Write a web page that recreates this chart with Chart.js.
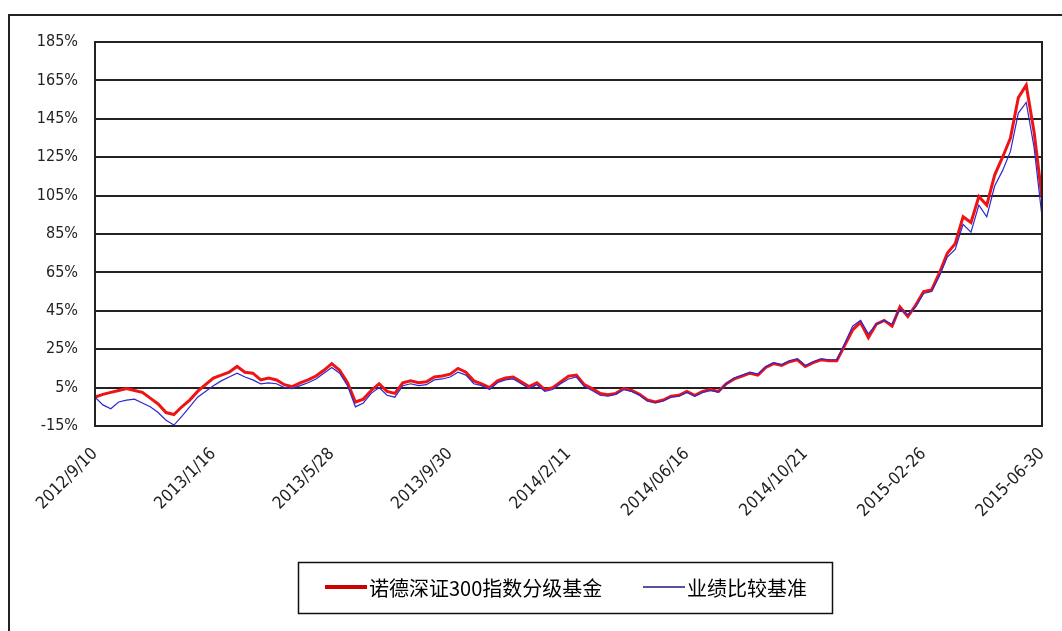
<!DOCTYPE html>
<html>
<head>
<meta charset="utf-8">
<script src="https://cdn.jsdelivr.net/npm/chart.js@4/dist/chart.umd.min.js"></script>
<style>
  html, body { margin: 0; padding: 0; background: #fff; }
  canvas { display: block; }
</style>
</head>
<body>
<canvas id="navChart" width="1062" height="631"></canvas>
<script>
// метки по оси X (каждые 15 точек)
const xLabels = ['2012/9/10', '2013/1/16', '2013/5/28', '2013/9/30', '2014/2/11',
  '2014/06/16', '2014/10/21', '2015-02-26', '2015-06-30'];
const labelStep = 15;

// 诺德深证300指数分级基金, накопленная доходность, %
const fundValues = [
  0, 1.5, 2.5, 3.5, 4.5, 3.5, 2.5, -0.5, -3.5, -8,
  -9, -5, -1.5, 3, 6.5, 10, 11.5, 13, 16, 13,
  12.5, 9, 10, 9, 6.5, 5.5, 7.5, 9, 11, 14,
  17.5, 14, 7.5, -2.5, -1, 3.5, 7, 3, 2, 7.5,
  8.5, 7.5, 8, 10.5, 11, 12, 15, 13, 8.5, 7,
  5, 8.5, 10, 10.5, 8, 5.5, 7.5, 4, 5, 8,
  11, 11.5, 6.5, 4.5, 2, 1.3, 2, 4.5, 3.5, 1.5,
  -1.5, -2.5, -1.5, 0.5, 1, 3, 1, 3, 4, 3,
  7, 9.5, 11, 12.5, 11.5, 15.5, 17.5, 16.5, 18.5, 19.5,
  16, 18, 19.5, 19, 19, 27, 35, 39, 31, 38,
  40, 37, 47, 42, 48, 55, 55.8, 64.7, 75, 80,
  94, 91, 104.5, 100, 115.7, 125, 135, 156, 162.5, 138,
  104
];

// 业绩比较基准, %
const benchmarkValues = [
  0, -4, -6, -2.5, -1.5, -1, -3, -5, -8, -12,
  -14.5, -10, -5, 0, 3, 6, 8.5, 10.5, 12.5, 10.5,
  9, 7, 7.5, 7, 5, 4.5, 6, 7.5, 9.5, 12.5,
  15.5, 12.5, 6, -5, -3, 2, 5, 1, 0, 6,
  7, 6, 6.5, 9, 9.5, 10.5, 13, 11.5, 7, 6,
  4, 7.5, 9, 9.5, 7, 4.5, 6.5, 3, 4, 7,
  9.5, 10.5, 5.5, 3.5, 1, 0.5, 1.5, 4, 3, 1,
  -2, -3, -2, 0, 0.5, 2.5, 0.5, 2.5, 3.5, 2.5,
  7, 10, 11.5, 13, 12, 16, 18, 17, 19, 20,
  16.5, 18.5, 20, 19.5, 19.5, 28, 37, 40, 33, 38,
  40, 38, 46, 43, 47, 54, 55, 63, 73, 77,
  90, 86, 100, 94, 110, 118, 128, 148, 153.5, 130,
  94
];

const fontFamily = "'DejaVu Sans Condensed', 'Liberation Sans Narrow', 'DejaVu Sans'";

// рамка всей картинки и рамка области графика
const framePlugin = {
  id: 'frame',
  beforeDraw(chart) {
    const ctx = chart.ctx;
    ctx.save();
    ctx.fillStyle = '#fff';
    ctx.fillRect(0, 0, chart.width, chart.height);
    ctx.strokeStyle = '#222';
    ctx.lineWidth = 2;
    ctx.strokeRect(9, 15, chart.width + 20, chart.height + 20);
    ctx.restore();
  },
  afterDraw(chart) {
    const a = chart.chartArea;
    const ctx = chart.ctx;
    ctx.save();
    ctx.strokeStyle = '#222';
    ctx.lineWidth = 2;
    ctx.strokeRect(a.left, a.top, a.right - a.left, a.bottom - a.top);
    ctx.restore();
  }
};

// легенда в рамке, как на исходной картинке
const boxLegend = {
  id: 'boxLegend',
  afterDraw(chart) {
    const ctx = chart.ctx;
    const ds = chart.data.datasets;
    ctx.save();
    ctx.strokeStyle = '#111';
    ctx.lineWidth = 1.5;
    ctx.strokeRect(298.5, 562.5, 534, 51);
    ctx.font = "20px 'Noto Sans CJK SC'";
    ctx.textBaseline = 'middle';
    ctx.fillStyle = '#000';
    const items = [
      { x: 325, ds: ds[0], w: 4, color: '#cc0000' },
      { x: 643, ds: ds[1], w: 1.5, color: '#1a1a80' }
    ];
    items.forEach(it => {
      ctx.strokeStyle = it.color;
      ctx.lineWidth = it.w;
      ctx.beginPath();
      ctx.moveTo(it.x, 587);
      ctx.lineTo(it.x + 42, 587);
      ctx.stroke();
      ctx.fillText(it.ds.label, it.x + 44, 588);
    });
    ctx.restore();
  }
};

document.addEventListener('DOMContentLoaded', () => {
  new Chart(document.getElementById('navChart'), {
    type: 'line',
    data: {
      datasets: [
        {
          label: '诺德深证300指数分级基金',
          data: fundValues.map((v, i) => ({ x: i, y: v })),
          borderColor: 'rgb(238, 20, 20)',
          borderWidth: 3,
          pointRadius: 0,
          tension: 0,
          order: 1
        },
        {
          label: '业绩比较基准',
          data: benchmarkValues.map((v, i) => ({ x: i, y: v })),
          borderColor: 'rgb(45, 40, 210)',
          borderWidth: 1.2,
          pointRadius: 0,
          tension: 0,
          order: 0
        }
      ]
    },
    options: {
      responsive: false,
      animation: false,
      layout: { padding: { top: 42, right: 20, left: 0, bottom: 0 } },
      plugins: {
        legend: { display: false },
        tooltip: { enabled: false }
      },
      scales: {
        x: {
          type: 'linear',
          min: 0,
          max: (xLabels.length - 1) * labelStep,
          grid: { display: false },
          border: { display: false },
          afterFit: (scale) => {
            scale.height = 205;
            scale.paddingLeft = 0;
            scale.paddingRight = 0;
          },
          ticks: {
            stepSize: labelStep,
            autoSkip: false,
            minRotation: 45,
            maxRotation: 45,
            padding: 10,
            color: '#222',
            font: { family: fontFamily, size: 17 },
            callback: (v) => xLabels[Math.round(v / labelStep)] || ''
          }
        },
        y: {
          min: -15,
          max: 185,
          afterFit: (scale) => { scale.width = 95; },
          grid: { color: '#222', lineWidth: 2, drawTicks: false },
          border: { display: false },
          ticks: {
            stepSize: 20,
            padding: 17,
            color: '#222',
            font: { family: fontFamily, size: 16 },
            callback: (v) => v + '%'
          }
        }
      }
    },
    plugins: [framePlugin, boxLegend]
  });
});
</script>
</body>
</html>
